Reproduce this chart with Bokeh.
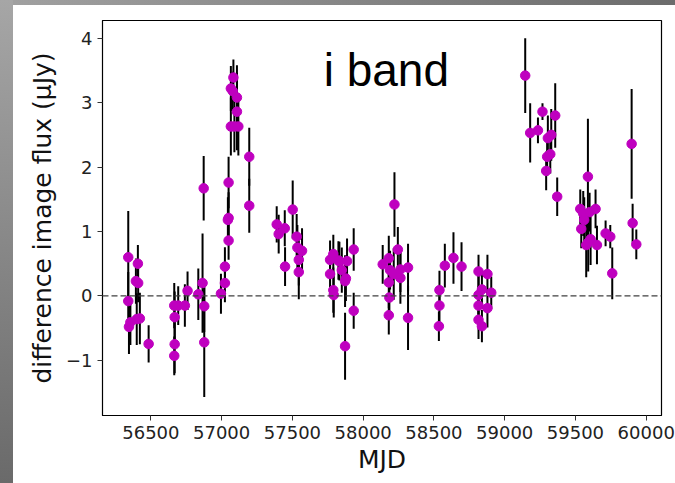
from bokeh.plotting import figure
from bokeh.models import ColumnDataSource, Span, Label, FixedTicker, Div
from bokeh.layouts import row, column
from bokeh.embed import file_html
from bokeh.resources import INLINE

mjd = [56340, 56340, 56345, 56355, 56394, 56400, 56408, 56410, 56422, 56484,
       56665, 56668, 56668, 56665, 56693, 56740, 56759, 56835, 56865, 56873, 56877, 56877,
       56995, 57023, 57023, 57049, 57044, 57049, 57049, 57083, 57065, 57078, 57108, 57108,
       57065, 57090, 57118, 57195, 57195,
       57389, 57403, 57446, 57448, 57502, 57530, 57535, 57545, 57545, 57568,
       57766, 57766, 57789, 57789, 57792, 57825, 57832, 57849, 57872, 57878, 57872, 57886,
       57933, 57933,
       58138, 58181, 58181, 58185, 58181, 58190, 58216, 58221, 58245, 58263, 58263, 58317, 58317,
       58535, 58539, 58539, 58577, 58638, 58695,
       58815, 58815, 58815, 58815, 58839, 58839, 58878, 58878, 58905,
       59145, 59180, 59235, 59267, 59305, 59329, 59300, 59322, 59293, 59357, 59371,
       59588, 59534, 59642, 59541, 59555, 59562, 59600, 59576, 59590, 59607, 59652, 59713,
       59746, 59760,
       59897, 59904, 59930]
flux = [0.60, -0.08, -0.48, -0.41, 0.23, -0.36, 0.50, 0.20, -0.35, -0.745,
        -0.15, -0.33, -0.75, -0.93, -0.15, -0.15, 0.08, 0.025, 0.20, 1.67, -0.16, -0.72,
        0.035, 0.455, 0.20, 0.86, 1.18, 1.21, 1.76, 3.39, 3.22, 3.18, 3.08, 2.86,
        2.63, 2.63, 2.63, 2.16, 1.40,
        1.11, 0.96, 1.05, 0.455, 1.34, 0.92, 0.75, 0.56, 0.37, 0.70,
        0.56, 0.34, 0.65, 0.09, 0.015, 0.55, 0.54, 0.40, 0.23, 0.27, -0.78, 0.54,
        0.72, -0.23,
        0.49, 0.585, 0.21, -0.025, -0.30, 0.40, 0.34, 1.42, 0.72, 0.41, 0.28, 0.44, -0.34,
        -0.47, 0.09, -0.15, 0.47, 0.59, 0.455,
        0.38, 0.015, -0.15, -0.37, -0.47, 0.10, 0.34, -0.19, 0.05,
        3.42, 2.53, 2.57, 2.86, 2.45, 2.50, 2.16, 2.20, 1.94, 2.80, 1.54,
        1.85, 1.35, 1.35, 1.04, 1.28, 1.18, 1.30, 0.79, 0.83, 0.88, 0.79, 0.97,
        0.92, 0.35,
        2.36, 1.13, 0.80]
err = [0.72, 0.45, 0.42, 0.35, 0.35, 0.40, 0.29, 0.30, 0.40, 0.29,
       0.35, 0.40, 0.45, 0.30, 0.30, 0.33, 0.30, 0.40, 0.77, 0.50, 0.40, 0.85,
       0.31, 0.30, 0.30, 0.30, 0.35, 0.40, 0.40, 0.28, 0.35, 0.30, 0.50, 0.60,
       0.45, 0.40, 0.45, 0.45, 0.42,
       0.28, 0.30, 0.28, 0.30, 0.45, 0.35, 0.35, 0.40, 0.42, 0.35,
       0.30, 0.30, 0.30, 0.35, 0.35, 0.30, 0.30, 0.35, 0.40, 0.35, 0.52, 0.35,
       0.33, 0.28,
       0.30, 0.35, 0.40, 0.35, 0.30, 0.30, 0.40, 0.50, 0.35, 0.35, 0.40, 0.37, 0.50,
       0.23, 0.30, 0.30, 0.34, 0.40, 0.38,
       0.26, 0.30, 0.30, 0.30, 0.25, 0.30, 0.30, 0.30, 0.25,
       0.58, 0.46, 0.20, 0.13, 0.35, 0.40, 0.30, 0.30, 0.30, 0.50, 0.30,
       0.90, 0.30, 0.30, 0.30, 0.35, 0.35, 0.30, 0.50, 0.45, 0.40, 0.30, 0.20,
       0.18, 0.40,
       0.85, 0.30, 0.23]

x_ticks = [56500, 57000, 57500, 58000, 58500, 59000, 59500, 60000]
y_ticks = [-1, 0, 1, 2, 3, 4]
y_tick_labels = {-1: "\u22121", 0: "0", 1: "1", 2: "2", 3: "3", 4: "4"}
title_text = "i band"
x_label = "MJD"
y_label = "difference image flux (\u03bcJy)"

lo = [f - e for f, e in zip(flux, err)]
hi = [f + e for f, e in zip(flux, err)]
src = ColumnDataSource(dict(x=mjd, y=flux, lo=lo, hi=hi))

p = figure(width=662, height=478, frame_width=559, frame_height=395,
           x_range=(56158, 60108), y_range=(-1.856, 4.275),
           output_backend="svg", toolbar_location=None,
           min_border_left=89, min_border_top=15, min_border_right=14, min_border_bottom=68)
p.xgrid.visible = False
p.ygrid.visible = False
p.outline_line_color = "black"
p.outline_line_width = 1.2
p.background_fill_color = "white"
p.border_fill_color = "white"

p.segment(x0="x", y0="lo", x1="x", y1="hi", source=src, line_color="black", line_width=2)
p.scatter(x="x", y="y", source=src, size=9.5, fill_color="#bf00bf", line_color="#bf00bf")

p.add_layout(Span(location=0, dimension="width", line_color="#404040",
                  line_dash="6 3", line_width=1.4))

p.add_layout(Label(x=57721, y=3.51, text=title_text, text_font="Liberation Sans",
                   text_font_size="46px", text_color="black", text_baseline="alphabetic"))

for ax in (p.xaxis[0], p.yaxis[0]):
    ax.major_tick_out = 5
    ax.major_tick_in = 0
    ax.minor_tick_out = 0
    ax.minor_tick_in = 0
    ax.axis_line_color = "black"
    ax.major_tick_line_color = "#333333"
    ax.major_label_text_font = "DejaVu Sans"
    ax.major_label_text_font_size = "18px"
    ax.major_label_text_color = "#222222"
    ax.axis_label_text_font = "DejaVu Sans"
    ax.axis_label_text_font_size = "25px"
    ax.axis_label_text_font_style = "normal"
    ax.axis_label_text_color = "#111111"
    ax.major_label_standoff = 5

p.xaxis.ticker = FixedTicker(ticks=x_ticks)
p.yaxis.ticker = FixedTicker(ticks=y_ticks)
p.yaxis.major_label_overrides = y_tick_labels
p.xaxis.axis_label = x_label
p.yaxis.axis_label = y_label
p.xaxis.axis_label_standoff = 3
p.yaxis.axis_label_standoff = 6

# grey page edges (left and top strips)
left_strip = Div(width=13, height=483, margin=0,
                 styles={"background": "linear-gradient(to bottom, #a6a6a6, #6a6a6a)"})
top_strip = Div(width=662, height=5, margin=0,
                styles={"background": "linear-gradient(to right, #a0a0a0, #6c6c6c)"})
layout = row(left_strip, column(top_strip, p, spacing=0), spacing=0)

open("out.html", "w").write(file_html(layout, INLINE))
